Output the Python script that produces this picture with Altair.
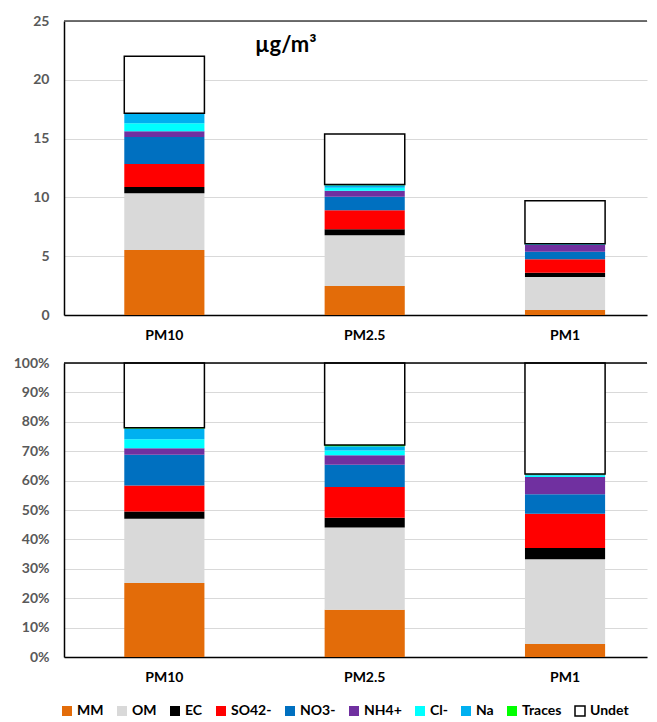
import altair as alt
import pandas as pd

sizes = ["PM10", "PM2.5", "PM1"]
components = ["MM", "OM", "EC", "SO42-", "NO3-", "NH4+", "Cl-", "Na", "Traces", "Undet"]
colors = ["#E36C09", "#D9D9D9", "#000000", "#FF0000", "#0070C0",
          "#7030A0", "#00FFFF", "#00B0F0", "#00FF00", "#FFFFFF"]
strokes = ["transparent"] * 9 + ["#000000"]

# concentrations in µg/m3, in the order of `components`
pm10 = [5.53, 4.82, 0.53, 1.96, 2.29, 0.49, 0.68, 0.80, 0.06, 4.84]
pm25 = [2.47, 4.31, 0.51, 1.61, 1.16, 0.50, 0.25, 0.22, 0.07, 4.29]
pm1 = [0.43, 2.80, 0.37, 1.14, 0.64, 0.57, 0.05, 0.03, 0.02, 3.67]

abs_ticks = [0, 5, 10, 15, 20, 25]
pct_ticks = [0, 0.1, 0.2, 0.3, 0.4, 0.5, 0.6, 0.7, 0.8, 0.9, 1.0]
unit_label = ["µg/m³"]

rows = []
for s, vals in zip(sizes, [pm10, pm25, pm1]):
    for i, (c, v) in enumerate(zip(components, vals)):
        rows.append({"size": s, "comp": c, "idx": i, "value": v})
df = pd.DataFrame(rows)

FONT = "Lato"
W, H = 583, 294

xscale = alt.Scale(domain=sizes, paddingInner=0.6, paddingOuter=0.255, align=0.59)
xaxis = alt.Axis(title=None, labelAngle=0, labelFont=FONT, labelFontWeight="bold",
                 labelFontSize=14, labelColor="#000000", labelPadding=13,
                 ticks=False, domainColor="#000000", domainWidth=1.5, grid=False)


def color_enc(show_legend):
    if show_legend:
        leg = alt.Legend(title=None, orient="none", direction="horizontal",
                         legendX=-4, legendY=341, symbolType="square", symbolSize=100,
                         symbolStrokeWidth=1.5, labelFont=FONT, labelFontWeight="bold",
                         labelFontSize=14, labelColor="#000000", labelOffset=3,
                         columnPadding=10)
    else:
        leg = None
    return alt.Color("comp:N", scale=alt.Scale(domain=components, range=colors),
                     sort=components, legend=leg)


def stroke_enc(show_legend):
    return alt.Stroke("comp:N", scale=alt.Scale(domain=components, range=strokes),
                      sort=components, legend=(alt.Legend(title=None) if show_legend else None))


def yaxis(vals, fmt=None):
    kw = dict(title=None, values=vals, labelFont=FONT, labelFontWeight="bold",
              labelFontSize=14, labelColor="#595959", labelPadding=15, ticks=False,
              domainColor="#000000", domainWidth=1.5, gridColor="#D9D9D9", gridWidth=1,
              minExtent=56, maxExtent=56, labelOverlap=False)
    if fmt:
        kw["format"] = fmt
    return alt.Axis(**kw)


base = alt.Chart(df)

top_yaxis = yaxis(abs_ticks)
top_bars = base.mark_bar(strokeWidth=1.5).encode(
    x=alt.X("size:N", scale=xscale, axis=xaxis, sort=sizes),
    y=alt.Y("value:Q", stack="zero", scale=alt.Scale(domain=[0, 25], nice=False),
            axis=top_yaxis),
    color=color_enc(False),
    stroke=stroke_enc(False),
    order=alt.Order("idx:Q", sort="ascending"),
)
top_rule = alt.Chart(pd.DataFrame({"value": [25]})).mark_rule(
    color="#404040", strokeWidth=1.5).encode(y=alt.Y("value:Q", axis=top_yaxis))
top_text = alt.Chart(pd.DataFrame({"label": unit_label, "value": [23]})).mark_text(
    font=FONT, fontWeight="bold", fontSize=22, color="#000000", align="left",
    baseline="middle").encode(x=alt.value(191), y=alt.Y("value:Q", axis=top_yaxis),
                              text="label:N")

top = alt.layer(top_bars, top_rule, top_text).properties(width=W, height=H)

bot_yaxis = yaxis(pct_ticks, ".0%")
bot_bars = base.mark_bar(strokeWidth=1.5).encode(
    x=alt.X("size:N", scale=xscale, axis=xaxis, sort=sizes),
    y=alt.Y("value:Q", stack="normalize", scale=alt.Scale(domain=[0, 1], nice=False),
            axis=bot_yaxis),
    color=color_enc(True),
    stroke=stroke_enc(True),
    order=alt.Order("idx:Q", sort="ascending"),
)
bot_rule = alt.Chart(pd.DataFrame({"value": [1]})).mark_rule(
    color="#000000", strokeWidth=1.5).encode(y=alt.Y("value:Q", axis=bot_yaxis))

bottom = alt.layer(bot_bars, bot_rule).properties(width=W, height=H)

chart = alt.vconcat(top, bottom, spacing=14).resolve_legend(
    color="independent", stroke="independent"
).configure(
    padding={"left": 0, "top": 6, "right": 0, "bottom": 0},
    background="#FFFFFF",
).configure_view(stroke=None)

chart.save("out.html", embed_options={"renderer": "svg", "actions": False})
